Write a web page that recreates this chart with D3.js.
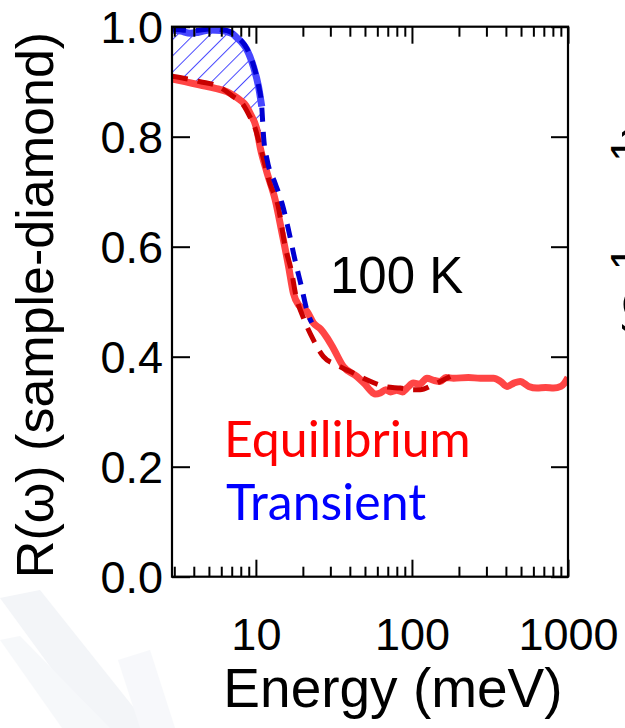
<!DOCTYPE html>
<html>
<head>
<meta charset="utf-8">
<script src="https://cdn.jsdelivr.net/npm/d3@7"></script>
<style>
  html, body { margin: 0; padding: 0; background: #ffffff; }
  svg { display: block; }
  .num { font-family: "Liberation Sans", Arial, sans-serif; fill: #000; }
</style>
</head>
<body>
<svg id="chart" width="625" height="728"></svg>
<script>
// Reflectance R(ω) of sample vs. diamond at 100 K, [energy meV, R]
const equilibriumMeasured = [
  [2.9,0.905],[3.5,0.900],[4.4,0.894],[5.5,0.888],[6.5,0.882],[7.2,0.875],[7.9,0.867],
  [8.6,0.857],[9.2,0.842],[10.1,0.815],[10.7,0.778],[11.8,0.734],[13.3,0.685],[14.7,0.625],
  [16.2,0.564],[17.4,0.515],[18.8,0.494],[21.2,0.483],[23.4,0.461],[26,0.450],[28.5,0.435],
  [31.4,0.415],[36.4,0.382],[44.4,0.364],[50,0.350],[54,0.339],[58,0.332],[62.6,0.334],
  [68,0.340],[73,0.336],[80,0.339],[87,0.336],[93,0.343],[102,0.352],[112,0.350],
  [124.7,0.361],[138,0.357],[151.8,0.355],[165,0.362],[184.8,0.361],[230,0.362],[274,0.361],
  [333.7,0.361],[370,0.355],[406,0.346],[450,0.352],[494,0.355],[560,0.346],[632,0.343],
  [720,0.344],[809,0.343],[900,0.346],[950,0.352],[1000,0.362]
];
const equilibriumFit = [
  [2.9,0.910],[4.4,0.900],[5.8,0.891],[7.15,0.873],[8.2,0.860],[9.2,0.835],[9.9,0.815],
  [10.66,0.782],[12.3,0.715],[13.9,0.673],[15.4,0.600],[17.0,0.552],[17.9,0.516],[20.2,0.470],
  [23.4,0.430],[27.1,0.400],[33.1,0.385],[44.4,0.367],[51.4,0.358],[69.2,0.345],[84.2,0.343],
  [100,0.340],[113,0.340],[135,0.348],[151.8,0.355],[176,0.364]
];
const transientMeasured = [
  [2.9,0.994],[3.3,0.992],[3.8,0.988],[4.3,0.990],[5.1,0.994],[6.0,0.993],[6.5,0.991],
  [7.1,0.987],[7.55,0.980],[8.2,0.970],[8.76,0.958],[9.65,0.927],[10.4,0.891],[10.9,0.855]
];
const transientFit = [
  [2.9,0.996],[4.0,0.993],[5.1,0.996],[6.5,0.993],[7.55,0.982],[8.76,0.960],[9.65,0.930],
  [10.4,0.893],[10.9,0.855],[11.2,0.800],[11.8,0.758],[13.3,0.715],[14.7,0.679],[16.2,0.630],
  [17.8,0.576],[19.6,0.527],[21.5,0.479],[22.8,0.462]
];

const energyDomain = [2.9, 1000];
const reflDomain = [0, 1];
const xMajorTicks = [10, 100, 1000];
const xMinorTicks = [3,4,5,6,7,8,9,20,30,40,50,60,70,80,90,200,300,400,500,600,700,800,900];
const yTicks = [0, 0.2, 0.4, 0.6, 0.8, 1.0];

const labels = {
  x: "Energy (meV)",
  y: "R(ω) (sample-diamond)",
  temp: "100 K",
  eq: "Equilibrium",
  tr: "Transient"
};

const svg = d3.select("#chart");
const plot = { left: 172, right: 568, top: 26.7, bottom: 576.7 };

const x = d3.scaleLog().domain(energyDomain).range([plot.left, plot.right]);
const y = d3.scaleLinear().domain(reflDomain).range([plot.bottom, plot.top]);

// faint slide decoration in the lower-left corner
const deco = svg.append("g").attr("opacity", 0.35);
deco.append("path").attr("d", "M0,598 L40,590 L150,728 L95,728 Z").attr("fill", "#dde3ec");
deco.append("path").attr("d", "M0,640 L20,636 L110,728 L62,728 Z").attr("fill", "#e8ecf3");
deco.append("path").attr("d", "M118,660 L150,650 L175,728 L140,728 Z").attr("fill", "#e9edf4");

const defs = svg.append("defs");
defs.append("clipPath").attr("id", "plotClip")
  .append("rect")
  .attr("x", plot.left).attr("y", plot.top - 6)
  .attr("width", plot.right - plot.left).attr("height", plot.bottom - plot.top + 6);

const hatch = defs.append("pattern")
  .attr("id", "hatch").attr("patternUnits", "userSpaceOnUse")
  .attr("width", 11.5).attr("height", 11.5)
  .attr("patternTransform", "rotate(45)");
hatch.append("line")
  .attr("x1", 0).attr("y1", 0).attr("x2", 0).attr("y2", 11.5)
  .attr("stroke", "#4646ff").attr("stroke-width", 2);

const g = svg.append("g").attr("clip-path", "url(#plotClip)");

const line = d3.line()
  .x(d => x(d[0])).y(d => y(d[1]))
  .curve(d3.curveMonotoneX);

// hatched difference between transient and equilibrium spectra
const eMax = transientMeasured[transientMeasured.length - 1][0];
const lower = equilibriumMeasured.filter(d => d[0] <= eMax).slice().reverse();
const bandPts = transientMeasured.concat(lower);
g.append("path")
  .attr("d", d3.line().x(d => x(d[0])).y(d => y(d[1]))(bandPts) + "Z")
  .attr("fill", "url(#hatch)").attr("stroke", "none");

g.append("path").datum(equilibriumMeasured).attr("d", line)
  .attr("fill", "none").attr("stroke", "#ff4545").attr("stroke-width", 7)
  .attr("stroke-linejoin", "round");
g.append("path").datum(transientMeasured).attr("d", line)
  .attr("fill", "none").attr("stroke", "#4646ff").attr("stroke-width", 7)
  .attr("stroke-linejoin", "round");
g.append("path").datum(equilibriumFit).attr("d", line)
  .attr("fill", "none").attr("stroke", "#c80000").attr("stroke-width", 5)
  .attr("stroke-dasharray", "16,10");
g.append("path").datum(transientFit).attr("d", line)
  .attr("fill", "none").attr("stroke", "#0000d2").attr("stroke-width", 5)
  .attr("stroke-dasharray", "14,10");

// axes: ticks point inward, mirrored on top and right
function styleAxis(sel) {
  sel.select(".domain").remove();
  sel.selectAll(".tick line").attr("stroke", "#000").attr("stroke-width", 2);
}
svg.append("g").attr("transform", `translate(0,${plot.bottom})`)
  .call(d3.axisBottom(x).tickValues(xMinorTicks).tickSize(-10).tickFormat(""))
  .call(styleAxis);
svg.append("g").attr("transform", `translate(0,${plot.top})`)
  .call(d3.axisTop(x).tickValues(xMinorTicks).tickSize(-10).tickFormat(""))
  .call(styleAxis);
svg.append("g").attr("transform", `translate(0,${plot.bottom})`)
  .call(d3.axisBottom(x).tickValues(xMajorTicks).tickSize(-17).tickPadding(50)
    .tickFormat(d3.format("d")))
  .call(styleAxis)
  .call(s => s.selectAll("text").attr("class", "num").attr("font-size", 45)
    .attr("dy", 0).attr("y", 73));
svg.append("g").attr("transform", `translate(0,${plot.top})`)
  .call(d3.axisTop(x).tickValues(xMajorTicks).tickSize(-17).tickFormat(""))
  .call(styleAxis);
svg.append("g").attr("transform", `translate(${plot.left},0)`)
  .call(d3.axisLeft(y).tickValues(yTicks).tickSize(-18).tickFormat(d3.format(".1f")))
  .call(styleAxis)
  .call(s => s.selectAll("text").attr("class", "num").attr("font-size", 45)
    .attr("x", -9).attr("dy", "0.36em"));
svg.append("g").attr("transform", `translate(${plot.right},0)`)
  .call(d3.axisRight(y).tickValues(yTicks).tickSize(-17).tickFormat(""))
  .call(styleAxis);

svg.append("rect")
  .attr("x", plot.left).attr("y", plot.top)
  .attr("width", plot.right - plot.left).attr("height", plot.bottom - plot.top)
  .attr("fill", "none").attr("stroke", "#000").attr("stroke-width", 2.2);

// axis titles
svg.append("text").attr("class", "num")
  .attr("x", 393).attr("y", 707).attr("text-anchor", "middle")
  .attr("font-size", 55).text(labels.x);
svg.append("text").attr("class", "num")
  .attr("transform", "translate(53,305) rotate(-90)")
  .attr("text-anchor", "middle").attr("font-size", 52).text(labels.y);

// annotations
svg.append("text").attr("class", "num")
  .attr("x", 330).attr("y", 293).attr("font-size", 51).text(labels.temp);
svg.append("text")
  .attr("x", 224).attr("y", 457).attr("font-family", "Lato, 'Open Sans', sans-serif")
  .attr("font-size", 50).attr("fill", "#ff0000").text(labels.eq);
svg.append("text")
  .attr("x", 226).attr("y", 520).attr("font-family", "Lato, 'Open Sans', sans-serif")
  .attr("font-size", 50).attr("fill", "#0000ff").text(labels.tr);

// y-axis title of the adjacent panel, running off the right edge
const nb = svg.append("text").attr("class", "num")
  .attr("transform", "translate(660,120) rotate(-90)")
  .attr("text-anchor", "end").attr("font-size", 52);
nb.append("tspan").text("σ");
nb.append("tspan").attr("font-size", 36).attr("dy", 12).text("1");
nb.append("tspan").attr("dy", -12).text(" (Ω");
nb.append("tspan").attr("font-size", 44).attr("dy", -18).text("-1");
nb.append("tspan").attr("dy", 18).text("cm");
nb.append("tspan").attr("font-size", 44).attr("dy", -18).text("-1");
nb.append("tspan").attr("dy", 18).text(")");
</script>
</body>
</html>
